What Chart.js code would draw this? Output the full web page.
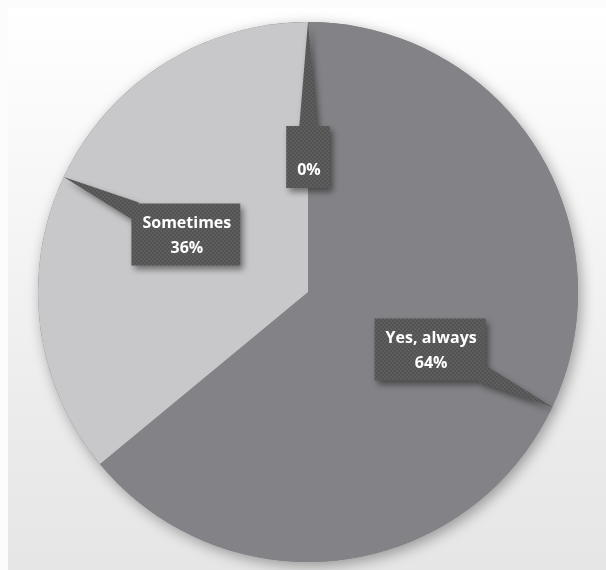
<!DOCTYPE html>
<html>
<head>
<meta charset="utf-8">
<script src="https://cdn.jsdelivr.net/npm/chart.js@4"></script>
<style>
  html, body { margin: 0; padding: 0; background: #fcfcfc; }
  #wrap {
    position: absolute; left: 8px; top: 8px; width: 598px; height: 562px;
    background: linear-gradient(180deg, #ffffff 0%, #f6f6f6 35%, #ececec 70%, #e6e6e6 100%);
  }
  #chart { position: absolute; left: 0; top: 0; }
</style>
</head>
<body>
<div id="wrap"></div>
<canvas id="chart" width="606" height="570"></canvas>
<script>
const categories = ['Yes, always', 'Sometimes', ''];
const values = [64, 36, 0];
const sliceColors = ['#838387', '#c8c8ca', '#a5a5a8'];

// little checker tile for the callout boxes
const tile = document.createElement('canvas');
tile.width = 4; tile.height = 4;
const tctx = tile.getContext('2d');
tctx.fillStyle = '#5e5e5e';
tctx.fillRect(0, 0, 4, 4);
tctx.fillStyle = '#535353';
tctx.fillRect(0, 0, 2, 2);
tctx.fillRect(2, 2, 2, 2);

const callouts = {
  id: 'callouts',
  beforeDatasetsDraw(chart) {
    const ctx = chart.ctx;
    const arc = chart.getDatasetMeta(0).data[0];
    ctx.save();
    ctx.shadowColor = 'rgba(0,0,0,0.35)';
    ctx.shadowBlur = 14;
    ctx.shadowOffsetX = 3;
    ctx.shadowOffsetY = 4;
    ctx.beginPath();
    ctx.arc(arc.x, arc.y, arc.outerRadius, 0, Math.PI * 2);
    ctx.fillStyle = sliceColors[0];
    ctx.fill();
    ctx.restore();
  },
  afterDatasetsDraw(chart) {
    const ctx = chart.ctx;
    const total = values.reduce((a, b) => a + b, 0);
    const lineH = 25;
    ctx.save();
    ctx.font = 'bold 16px "Open Sans", "DejaVu Sans", sans-serif';
    chart.getDatasetMeta(0).data.forEach((el, i) => {
      const mid = (el.startAngle + el.endAngle) / 2;
      const r = el.outerRadius;
      const tipX = el.x + Math.cos(mid) * r;
      const tipY = el.y + Math.sin(mid) * r;
      const cx = el.x + Math.cos(mid) * r * 0.5;
      const cy = el.y + Math.sin(mid) * r * 0.5;
      const pct = Math.round(values[i] / total * 100) + '%';
      const lines = [categories[i], pct];
      const w = Math.max(...lines.map(t => ctx.measureText(t).width)) + 20;
      const h = lines.length * lineH + 12;
      const bx = cx - w / 2, by = cy - h / 2;

      // where the leader leaves the box
      const dx = tipX - cx, dy = tipY - cy;
      const len = Math.hypot(dx, dy);
      const ux = dx / len, uy = dy / len;
      const tEdge = Math.min(
        Math.abs(ux) > 1e-6 ? (w / 2) / Math.abs(ux) : Infinity,
        Math.abs(uy) > 1e-6 ? (h / 2) / Math.abs(uy) : Infinity
      );
      const ex = cx + ux * (tEdge - 4), ey = cy + uy * (tEdge - 4);
      const hw = 9;

      ctx.save();
      ctx.shadowColor = 'rgba(0,0,0,0.45)';
      ctx.shadowBlur = 6;
      ctx.shadowOffsetX = 3;
      ctx.shadowOffsetY = 4;
      ctx.fillStyle = ctx.createPattern(tile, 'repeat');
      ctx.beginPath();
      ctx.rect(bx, by, w, h);
      ctx.moveTo(tipX, tipY);
      ctx.lineTo(ex - uy * hw, ey + ux * hw);
      ctx.lineTo(ex + uy * hw, ey - ux * hw);
      ctx.closePath();
      ctx.fill();
      ctx.restore();

      ctx.fillStyle = '#ffffff';
      ctx.textAlign = 'center';
      ctx.textBaseline = 'middle';
      lines.forEach((t, k) => {
        ctx.fillText(t, cx + 1, by + 6 + lineH * k + lineH / 2 + 1);
      });
    });
    ctx.restore();
  }
};

new Chart(document.getElementById('chart').getContext('2d'), {
  type: 'pie',
  data: {
    labels: categories,
    datasets: [{
      data: values,
      backgroundColor: sliceColors,
      borderWidth: 0
    }]
  },
  options: {
    responsive: false,
    animation: false,
    layout: { padding: { top: 22, bottom: 8, left: 38, right: 28 } },
    plugins: {
      legend: { display: false },
      tooltip: { enabled: false }
    }
  },
  plugins: [callouts]
});
</script>
</body>
</html>
